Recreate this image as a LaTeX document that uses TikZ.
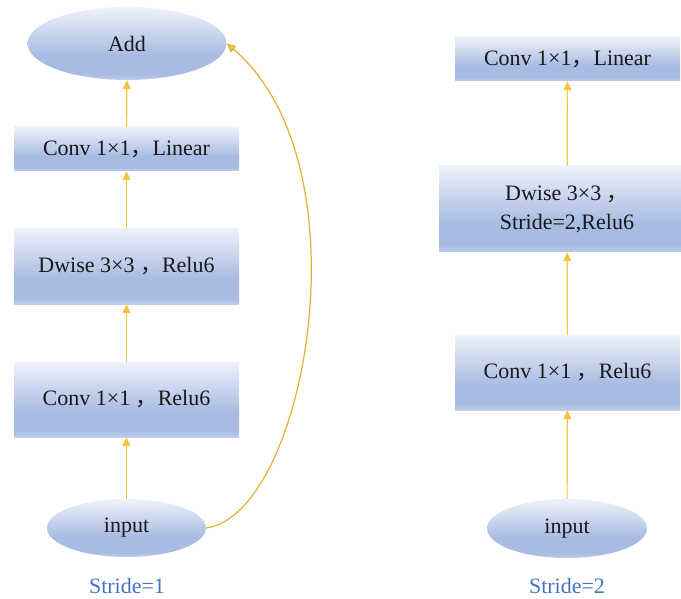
\documentclass[tikz,border=0pt]{standalone}
\usepackage{fontspec}
\setmainfont{Liberation Serif}
\newfontfamily\cjk{Noto Sans CJK SC}
\usetikzlibrary{arrows.meta,shapes.geometric}

\definecolor{shTop}{HTML}{EEF2FA}
\definecolor{shMid}{HTML}{C4D1EC}
\definecolor{shDeep}{HTML}{A8BBE2}
\definecolor{shEdge}{HTML}{BFCDEA}
\definecolor{flow}{HTML}{F7C340}
\definecolor{skip}{HTML}{E2B032}
\definecolor{caption}{HTML}{4472C4}

% soft blue vertical gradient, darker towards the lower part
\pgfdeclareverticalshading{blockshade}{100bp}{%
  color(0bp)=(shEdge); color(25bp)=(shEdge); color(29bp)=(shDeep);
  color(42bp)=(shDeep); color(55bp)=(shMid); color(75bp)=(shTop); color(100bp)=(shTop)}

\newcommand{\fw}{{\cjk ，}}

\tikzset{
  blockbox/.style={rectangle, shading=blockshade, draw=none, inner sep=0pt,
    minimum width=225pt, font=\fontsize{22}{29}\selectfont, text=black!90, align=center},
  blockoval/.style={ellipse, shading=blockshade, draw=none, inner sep=0pt,
    font=\fontsize{22}{29}\selectfont, text=black!90},
  flowarrow/.style={draw=flow, line width=1.2pt, -{Triangle[length=9pt,width=8pt]}},
  skiparrow/.style={draw=skip, line width=1.2pt, -{Triangle[length=9pt,width=8pt,fill=flow]}},
  captiontext/.style={font=\fontsize{22}{26}\selectfont, text=caption},
}

\begin{document}
\begin{tikzpicture}[x=1pt,y=-1pt]
  \useasboundingbox (0,0) rectangle (681,599);

  % ---- stride 1 block (with residual connection) ----
  \node[blockoval, minimum width=199pt, minimum height=73pt] (add) at (127,43.5) {Add};
  \node[blockbox, minimum height=44pt] (lin1) at (126.5,149) {Conv 1×1\fw Linear};
  \node[blockbox, minimum height=75pt] (dw1) at (126.5,266.5) {Dwise 3×3 \fw Relu6};
  \node[blockbox, minimum height=75pt] (pw1) at (126.5,399.5) {Conv 1×1 \fw Relu6};
  \node[blockoval, minimum width=159pt, minimum height=58pt] (in1) at (126.5,528) {input};
  \node[captiontext] (cap1) at (127,586) {Stride=1};

  \draw[flowarrow] (in1) -- (pw1);
  \draw[flowarrow] (pw1) -- (dw1);
  \draw[flowarrow] (dw1) -- (lin1);
  \draw[flowarrow] (lin1) -- (add);
  \draw[skiparrow] (in1.east) .. controls (305,515) and (370,165) .. (add.east);

  % ---- stride 2 block ----
  \node[blockbox, minimum height=44pt] (lin2) at (567.5,59) {Conv 1×1\fw Linear};
  \node[blockbox, minimum width=256pt, minimum height=86pt] (dw2) at (567,209)
    {Dwise 3×3 \fw\\Stride=2,Relu6};
  \node[blockbox, minimum height=75pt] (pw2) at (567.5,372.5) {Conv 1×1 \fw Relu6};
  \node[blockoval, minimum width=160pt, minimum height=59pt] (in2) at (567,528.5) {input};
  \node[captiontext] (cap2) at (567,586) {Stride=2};

  \draw[flowarrow] (in2) -- (pw2);
  \draw[flowarrow] (pw2) -- (dw2);
  \draw[flowarrow] (dw2) -- (lin2);
\end{tikzpicture}
\end{document}
